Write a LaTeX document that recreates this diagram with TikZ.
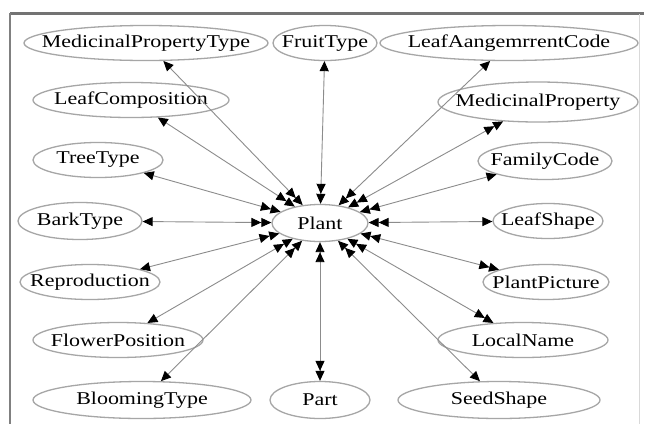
\documentclass[tikz,border=0pt]{standalone}
\usepackage{fontspec}
\setmainfont{Liberation Serif}[FakeStretch=1.22]
\usetikzlibrary{shapes.geometric,arrows.meta}
\newcommand\lbl[1]{\makebox[0pt]{#1}}
\tikzset{
  ent/.style={ellipse, draw=black!35, line width=1.3pt, inner sep=0pt,
    minimum height=35pt, font=\fontsize{18}{20}\selectfont, text=black},
  edge/.style={draw=black!45, line width=0.9pt},
  >={Triangle[length=10pt,width=9pt,color=black]}
}
\begin{document}
\begin{tikzpicture}[x=1pt,y=-1pt]
\useasboundingbox (0,0) rectangle (646,424);
\fill[white] (0,0) rectangle (646,424);
% frame
\draw[black!55, line width=3pt] (10,13) -- (644,13);
\draw[black!50, line width=2pt] (10,13) -- (10,424);
\draw[black!15, line width=1pt] (639,14) -- (639,424);
% nodes
\node[ent, minimum width=96pt, minimum height=37pt] (plant) at (320,223) {\lbl{Plant}};
\node[ent, minimum width=244pt] (mpt) at (146,43) {\lbl{MedicinalPropertyType}};
\node[ent, minimum width=104pt] (fruit) at (325,43) {\lbl{FruitType}};
\node[ent, minimum width=258pt] (lac) at (509,43) {\lbl{LeafAangemrrentCode}};
\node[ent, minimum width=196pt] (lcomp) at (131,100) {\lbl{LeafComposition}};
\node[ent, minimum width=200pt, minimum height=40pt] (mp) at (538,102) {\lbl{MedicinalProperty}};
\node[ent, minimum width=130pt] (tree) at (98,160) {\lbl{TreeType}};
\node[ent, minimum width=134pt, minimum height=37pt] (fam) at (545,161) {\lbl{FamilyCode}};
\node[ent, minimum width=124pt, minimum height=37pt] (bark) at (80,221) {\lbl{BarkType}};
\node[ent, minimum width=110pt] (lshape) at (548,221) {\lbl{LeafShape}};
\node[ent, minimum width=140pt] (repro) at (90,282) {\lbl{Reproduction}};
\node[ent, minimum width=126pt] (pic) at (546,282) {\lbl{PlantPicture}};
\node[ent, minimum width=170pt] (flower) at (118,340) {\lbl{FlowerPosition}};
\node[ent, minimum width=170pt] (local) at (523,340) {\lbl{LocalName}};
\node[ent, minimum width=218pt, minimum height=37pt] (bloom) at (142,400) {\lbl{BloomingType}};
\node[ent, minimum width=100pt, minimum height=37pt] (part) at (320,400) {\lbl{Part}};
\node[ent, minimum width=202pt, minimum height=37pt] (seed) at (499,400) {\lbl{SeedShape}};
% edges
\draw[edge,<<->] (plant) -- (mpt);
\draw[edge,<<->] (plant) -- (fruit);
\draw[edge,<<->] (plant) -- (lac);
\draw[edge,<<->] (plant) -- (lcomp);
\draw[edge,<<->>] (plant) -- (mp);
\draw[edge,<<->] (plant) -- (tree);
\draw[edge,<<->] (plant) -- (fam);
\draw[edge,<<->] (plant) -- (bark);
\draw[edge,<<->] (plant) -- (lshape);
\draw[edge,<<->] (plant) -- (repro);
\draw[edge,<<->>] (plant) -- (pic);
\draw[edge,<<->] (plant) -- (flower);
\draw[edge,<<->>] (plant) -- (local);
\draw[edge,<<->] (plant) -- (bloom);
\draw[edge,<<->>] (plant) -- (part);
\draw[edge,<<->] (plant) -- (seed);
\end{tikzpicture}
\end{document}
